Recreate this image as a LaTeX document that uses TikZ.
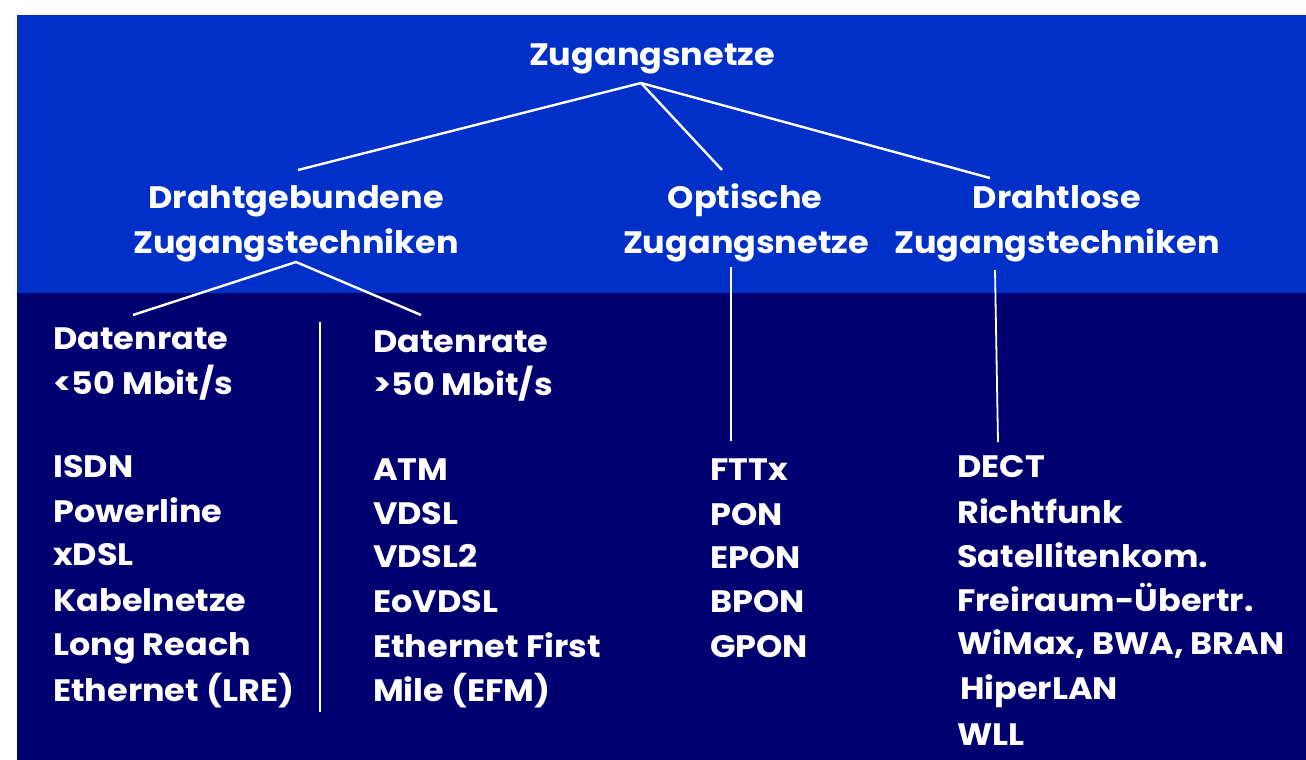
\documentclass[tikz,border=0pt]{standalone}
\usepackage{fontspec}
\setmainfont{Poppins}[FakeStretch=1.08]
\definecolor{topblue}{RGB}{0,48,200}
\definecolor{navy}{RGB}{0,0,112}
\begin{document}
\begin{tikzpicture}[x=1pt,y=-1pt,
  lbl/.style={text=white,font=\fontsize{31}{36}\selectfont\bfseries,inner sep=0pt},
  col/.style={lbl,anchor=base west},
  head/.style={lbl,anchor=base},
  conn/.style={draw=white,line width=2.4pt}]
\useasboundingbox (0,0) rectangle (1306,760);
\fill[white] (0,0) rectangle (1306,760);
\fill[topblue] (17,15) rectangle (1306,293);
\fill[navy] (17,293) rectangle (1306,760);

% headings
\node[head] (root) at (652,66) {Zugangsnetze};
\node[head] (draht1) at (296,208) {Drahtgebundene};
\node[head] (draht2) at (296,253) {Zugangstechniken};
\node[head] (opt1) at (745,208) {Optische};
\node[head] (opt2) at (746,253) {Zugangsnetze};
\node[head] (los1) at (1057,208) {Drahtlose};
\node[head] (los2) at (1057,253) {Zugangstechniken};

% column 1
\node[col] (c1a) at (53,349) {Datenrate};
\node[col] (c1b) at (53,394) {<50 Mbit/s};
\node[col] (c1c) at (53,477) {ISDN};
\node[col] (c1d) at (53,522) {Powerline};
\node[col] (c1e) at (53,565) {xDSL};
\node[col] (c1f) at (53,611) {Kabelnetze};
\node[col] (c1g) at (53,655) {Long Reach};
\node[col] (c1h) at (53,701) {Ethernet (LRE)};

% column 2
\node[col] (c2a) at (373,352) {Datenrate};
\node[col] (c2b) at (373,395) {>50 Mbit/s};
\node[col] (c2c) at (373,480) {ATM};
\node[col] (c2d) at (373,524) {VDSL};
\node[col] (c2e) at (373,567) {VDSL2};
\node[col] (c2f) at (373,612) {EoVDSL};
\node[col] (c2g) at (373,657) {Ethernet First};
\node[col] (c2h) at (373,701) {Mile (EFM)};

% column 3
\node[col] (c3a) at (710,480) {FTTx};
\node[col] (c3b) at (710,525) {PON};
\node[col] (c3c) at (710,568) {EPON};
\node[col] (c3d) at (710,612) {BPON};
\node[col] (c3e) at (710,657) {GPON};

% column 4
\node[col] (c4a) at (957,477) {DECT};
\node[col] (c4b) at (957,523) {Richtfunk};
\node[col] (c4c) at (957,567) {Satellitenkom.};
\node[col] (c4d) at (957,611) {Freiraum-Übertr.};
\node[col] (c4e) at (957,654) {WiMax, BWA, BRAN};
\node[col] (c4f) at (960,699) {HiperLAN};
\node[col] (c4g) at (957,745) {WLL};

% connector end points
\coordinate (apex) at (641,83);
\coordinate (apexL) at (298,170);
\coordinate (apexM) at (722,170);
\coordinate (apexR) at (990,178);
\coordinate (dapex) at (296,262);
\coordinate (dL) at (133,315);
\coordinate (dR) at (421,315);
\coordinate (sepT) at (320,322);
\coordinate (sepB) at (320,712);
\coordinate (optT) at (731,267);
\coordinate (optB) at (731,441);
\coordinate (losT) at (995,270);
\coordinate (losB) at (998,442);

\draw[conn] (apexL) -- (apex) -- (apexR);
\draw[conn] (apex) -- (apexM);
\draw[conn] (dL) -- (dapex) -- (dR);
\draw[conn,line width=1.8pt] (sepT) -- (sepB);
\draw[conn,line width=1.8pt] (optT) -- (optB);
\draw[conn,line width=1.8pt] (losT) -- (losB);
\end{tikzpicture}
\end{document}
